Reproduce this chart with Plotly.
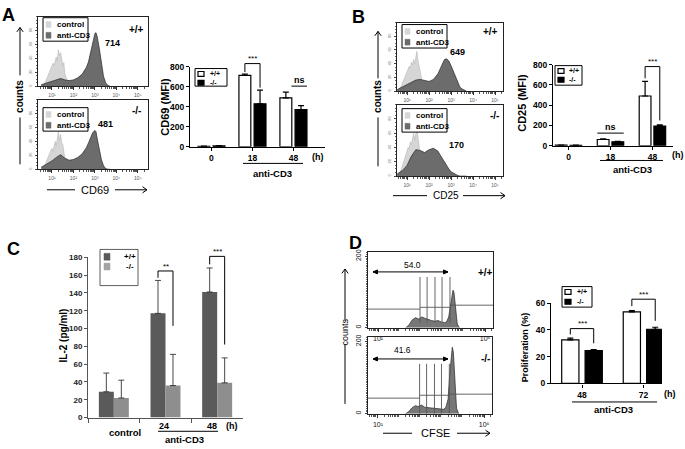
import math
import plotly.graph_objects as go

W, H = 685, 449
FONT = "Liberation Sans"

# ================= DATA =================
# Panel A - CD69 histograms (x: log10 CD69 intensity, y: relative counts)
cd69_ctl_x = [0.55, 0.7, 0.8, 0.9, 1.0, 1.05, 1.1, 1.15, 1.2, 1.25, 1.3, 1.35, 1.4, 1.45, 1.5, 1.55, 1.6, 1.7, 1.8, 1.9]
cd69_ctl_wt = [0, 6, 14, 22, 28, 33, 30, 38, 42, 36, 52, 44, 48, 40, 30, 34, 18, 8, 2, 0]
cd69_ctl_ko = [0, 7, 16, 24, 30, 26, 36, 40, 34, 46, 54, 42, 50, 38, 36, 26, 16, 7, 2, 0]
cd69_stim_x = [0.5, 0.8, 1.0, 1.2, 1.4, 1.6, 1.8, 2.0, 2.2, 2.4, 2.6, 2.7, 2.8, 2.9, 3.0, 3.05, 3.1, 3.2, 3.3, 3.4, 3.5, 3.6, 3.7]
cd69_stim_wt = [2, 5, 7, 9, 11, 9, 8, 9, 12, 17, 27, 35, 48, 63, 76, 77, 72, 55, 32, 14, 5, 1, 0]
cd69_stim_ko = [3, 8, 12, 17, 21, 16, 13, 14, 17, 22, 31, 38, 46, 53, 56, 54, 45, 28, 14, 5, 1, 0, 0]
cd69_mfi_text = ["714", "481"]

# Panel A - CD69 MFI bars
cd69_times = ["0", "18", "48"]
cd69_wt = [4, 712, 488]
cd69_wt_err = [2, 14, 58]
cd69_ko = [8, 429, 371]
cd69_ko_err = [3, 137, 39]

# Panel B - CD25 histograms
cd25_ctl_x = [0.6, 0.75, 0.85, 0.95, 1.05, 1.1, 1.15, 1.2, 1.25, 1.3, 1.35, 1.4, 1.45, 1.5, 1.55, 1.6, 1.7, 1.8, 1.9, 2.0]
cd25_ctl_wt = [0, 8, 16, 24, 30, 36, 33, 42, 38, 46, 40, 52, 58, 44, 36, 24, 12, 5, 2, 0]
cd25_ctl_ko = [0, 10, 20, 30, 40, 38, 48, 44, 54, 60, 50, 62, 68, 54, 42, 30, 16, 7, 3, 0]
cd25_stim_x = [0.55, 0.8, 1.0, 1.2, 1.4, 1.6, 1.8, 2.0, 2.2, 2.4, 2.5, 2.6, 2.7, 2.8, 2.9, 3.0, 3.1, 3.2, 3.3, 3.4, 3.5, 3.7]
cd25_stim_wt = [2, 6, 10, 13, 16, 17, 16, 14, 17, 25, 32, 40, 46, 47, 44, 37, 29, 20, 12, 6, 3, 0]
cd25_stim_ko = [3, 8, 15, 28, 37, 36, 33, 37, 39, 35, 30, 25, 19, 14, 10, 6, 4, 2, 1, 0, 0, 0]
cd25_mfi_text = ["649", "170"]

# Panel B - CD25 MFI bars
cd25_times = ["0", "18", "48"]
cd25_wt = [6, 62, 491]
cd25_wt_err = [2, 6, 145]
cd25_ko = [5, 40, 195]
cd25_ko_err = [2, 5, 12]

# Panel C - IL-2 ELISA
il2_groups = ["control", "24", "48"]
il2_wt = [29, 117, 141]
il2_wt_err = [21, 37, 27]
il2_ko = [22, 36, 39]
il2_ko_err = [20, 35, 28]

# Panel D - CFSE histograms
cfse_x = [2.3, 2.45, 2.6, 2.75, 2.9, 3.05, 3.2, 3.35, 3.5, 3.65, 3.8, 3.95, 4.1, 4.2, 4.3, 4.38, 4.45, 4.5, 4.55, 4.62, 4.7, 4.8]
cfse_wt = [0, 8, 22, 28, 24, 30, 26, 22, 20, 18, 20, 16, 14, 16, 30, 60, 95, 105, 98, 50, 10, 0]
cfse_ko = [0, 6, 16, 22, 20, 24, 18, 16, 16, 15, 14, 13, 12, 18, 40, 110, 170, 184, 170, 90, 15, 0]
cfse_gates = [2.96, 3.29, 3.66, 3.99, 4.36]
cfse_gate_span_wt = [14, 142]
cfse_gate_span_ko = [0, 138]
cfse_base_wt = [52, 57, 63]
cfse_base_ko = [43, 51, 54]
cfse_div_text = ["54.0", "41.6"]

# Panel D - proliferation bars
prolif_times = ["48", "72"]
prolif_wt = [32.5, 53.5]
prolif_wt_err = [1.3, 1.0]
prolif_ko = [24.5, 40.5]
prolif_ko_err = [0.8, 1.5]

# tick labels
hist_ticks = [1, 2, 3, 4, 5]
hist_ticktext = ["10¹", "10²", "10³", "10⁴", "10⁵"]
hist_yticks = [0, 20, 40, 60, 80]
cfse_ticks = [1, 6]
cfse_ticktext = ["10¹", "10⁶"]
cfse_yticks = [0, 200]
mfi_ticks = [0, 200, 400, 600, 800]
il2_ticks = [0, 20, 40, 60, 80, 100, 120, 140, 160, 180]
prolif_ticks = [0, 20, 40, 60]

# ================= HELPERS =================
CTL_FILL, CTL_LINE = "#d6d6d6", "#bdbdbd"
STIM_FILL, STIM_LINE = "#6c6c6c", "#262626"

fig = go.Figure()
layout = dict(width=W, height=H, margin=dict(l=0, r=0, t=0, b=0), autosize=False,
              paper_bgcolor="white", plot_bgcolor="rgba(0,0,0,0)", showlegend=False,
              barmode="overlay", font=dict(family=FONT, color="black"))
shapes, anns = [], []


def fx(p):
    return p / W


def fy(p):
    return 1 - p / H


def names(n):
    s = "" if n == 1 else str(n)
    return "x" + s, "y" + s, "xaxis" + s, "yaxis" + s


AX = {}


def add_axes(n, xd, yd, xr, yr, xkw, ykw):
    xn, yn, xk, yk = names(n)
    AX[n] = dict(xd=xd, yd=yd, xr=xr, yr=yr)
    layout[xk] = dict(domain=[fx(xd[0]), fx(xd[1])], range=list(xr), anchor=yn,
                      showgrid=False, zeroline=False, **xkw)
    layout[yk] = dict(domain=[fy(yd[1]), fy(yd[0])], range=list(yr), anchor=xn,
                      showgrid=False, zeroline=False, **ykw)


def to_px(n, xv, yv):
    a = AX[n]
    x = a["xd"][0] + (xv - a["xr"][0]) / (a["xr"][1] - a["xr"][0]) * (a["xd"][1] - a["xd"][0])
    y = a["yd"][1] - (yv - a["yr"][0]) / (a["yr"][1] - a["yr"][0]) * (a["yd"][1] - a["yd"][0])
    return x, y


def T(x, y, s, size=9, bold=True, angle=0, xanchor="center", color="black"):
    anns.append(dict(x=fx(x), y=fy(y), xref="paper", yref="paper", text=s, showarrow=False,
                     font=dict(family=FONT, size=size, color=color, weight=700 if bold else 400),
                     textangle=angle, xanchor=xanchor, yanchor="middle"))


def L(x0, y0, x1, y1, w=1.0, c="black"):
    shapes.append(dict(type="line", xref="paper", yref="paper", x0=fx(x0), y0=fy(y0),
                       x1=fx(x1), y1=fy(y1), line=dict(color=c, width=w)))


def R(x0, y0, x1, y1, fill="white", lc="black", w=1.0):
    shapes.append(dict(type="rect", xref="paper", yref="paper", x0=fx(x0), y0=fy(y1),
                       x1=fx(x1), y1=fy(y0), fillcolor=fill, line=dict(color=lc, width=w)))


def HEAD(xt, yt, xs, ys, size=4.5, filled=False, w=1.0, c="black"):
    d = math.hypot(xt - xs, yt - ys)
    ux, uy = (xt - xs) / d, (yt - ys) / d
    px_, py_ = -uy, ux
    spread = 0.45 if filled else 0.7
    x1, y1 = xt - size * ux + size * spread * px_, yt - size * uy + size * spread * py_
    x2, y2 = xt - size * ux - size * spread * px_, yt - size * uy - size * spread * py_
    path = f"M {fx(x1)},{fy(y1)} L {fx(xt)},{fy(yt)} L {fx(x2)},{fy(y2)}"
    if filled:
        path += " Z"
    shapes.append(dict(type="path", xref="paper", yref="paper", path=path,
                       fillcolor=c if filled else "rgba(0,0,0,0)", line=dict(color=c, width=w)))


def ARROW(xt, yt, xs, ys, both=False, filled=False, w=1.0, c="black"):
    L(xt, yt, xs, ys, w, c)
    HEAD(xt, yt, xs, ys, filled=filled, w=w, c=c)
    if both:
        HEAD(xs, ys, xt, yt, filled=filled, w=w, c=c)


minor_log = [d + math.log10(k) for d in range(0, 7) for k in range(2, 10)]


def hist_xkw(ticks, ticktext, size, color="#555"):
    return dict(showline=True, mirror=True, linecolor="#222", linewidth=1, ticks="outside",
                ticklen=3, tickwidth=1, tickcolor="#333", tickvals=ticks, ticktext=ticktext,
                tickfont=dict(size=size, color=color), ticklabelstandoff=1,
                minor=dict(ticks="outside", ticklen=2, tickwidth=0.7, tickcolor="#555",
                           tickvals=minor_log))


def hist_ykw(ticks, size, color="#777"):
    return dict(showline=True, mirror=True, linecolor="#222", linewidth=1, ticks="outside",
                ticklen=2, tickwidth=1, tickcolor="#444", tickvals=ticks,
                tickfont=dict(size=size, color=color), tickangle=-90, ticklabelstandoff=1,
                minor=dict(ticks="outside", ticklen=1.5, tickcolor="#666", dtick=5))


def bar_xkw(size=8.5):
    return dict(type="category", showline=True, linecolor="black", linewidth=1.3, ticks="outside",
                ticklen=3, tickwidth=1.2, tickcolor="black",
                tickfont=dict(family=FONT, size=size, weight=700))


def bar_ykw(ticks, size=8.5):
    return dict(showline=True, linecolor="black", linewidth=1.3, ticks="outside", ticklen=3,
                tickwidth=1.2, tickcolor="black", tickvals=ticks,
                tickfont=dict(family=FONT, size=size, weight=700))


def hist_trace(n, x, y, fill, line):
    xn, yn, _, _ = names(n)
    fig.add_trace(go.Scatter(x=x, y=y, xaxis=xn, yaxis=yn, mode="lines", fill="tozeroy",
                             fillcolor=fill, line=dict(color=line, width=0.7), hoverinfo="skip"))


def bar_trace(n, cats, vals, err, off, width, fill, line_w, err_c, err_t, cap):
    xn, yn, _, _ = names(n)
    fig.add_trace(go.Bar(x=cats, y=vals, xaxis=xn, yaxis=yn, offset=off, width=width,
                         marker=dict(color=fill, line=dict(color="black", width=line_w)),
                         error_y=dict(type="data", symmetric=False, array=err,
                                      arrayminus=[0] * len(err), color=err_c,
                                      thickness=err_t, width=cap),
                         hoverinfo="skip"))


def bracket(n, c, o1, o2, v_top, v_left, v_right, label, size=8):
    x1, yt = to_px(n, c + o1, v_top)
    x2, _ = to_px(n, c + o2, v_top)
    _, yl = to_px(n, c, v_left)
    _, yr = to_px(n, c, v_right)
    L(x1, yl, x1, yt)
    L(x1, yt, x2, yt)
    L(x2, yt, x2, yr)
    T((x1 + x2) / 2, yt - 5, label, size, bold=False)


def ns_line(n, c, o1, o2, v, label="ns"):
    x1, y = to_px(n, c + o1, v)
    x2, _ = to_px(n, c + o2, v)
    L(x1, y, x2, y)
    T((x1 + x2) / 2, y - 6, label, 9, bold=True)


def hist_legend(x0, y0):
    R(x0, y0, x0 + 45, y0 + 24, "white", "black", 1)
    R(x0 + 3, y0 + 4, x0 + 8, y0 + 10, CTL_FILL, CTL_FILL, 0.5)
    T(x0 + 12, y0 + 7, "control", 8, xanchor="left")
    R(x0 + 3, y0 + 15, x0 + 8, y0 + 21, STIM_FILL, STIM_FILL, 0.5)
    T(x0 + 12, y0 + 18, "anti-CD3", 8, xanchor="left")


def bar_legend(x0, y0, x1, y1, dy, sw_fill, sw_line, tx):
    R(x0, y0, x1, y1, "white", "black", 1)
    for i, lab in enumerate(["+/+", "-/-"]):
        R(x0 + 3, y0 + 3 + i * dy, x0 + 9, y0 + 8 + i * dy, sw_fill[i], sw_line[i], 1.2)
        T(tx, y0 + 5.5 + i * dy, lab, 7, xanchor="left")


# ================= PANEL A =================
add_axes(1, (38, 148), (12, 83), (0.35, 5.47), (0, 100),
         hist_xkw(hist_ticks, hist_ticktext, 5), hist_ykw(hist_yticks, 4))
add_axes(2, (38, 148), (97, 168), (0.35, 5.47), (0, 100),
         hist_xkw(hist_ticks, hist_ticktext, 5), hist_ykw(hist_yticks, 4))
hist_trace(1, cd69_ctl_x, cd69_ctl_wt, CTL_FILL, CTL_LINE)
hist_trace(1, cd69_stim_x, cd69_stim_wt, STIM_FILL, STIM_LINE)
hist_trace(2, cd69_ctl_x, cd69_ctl_ko, CTL_FILL, CTL_LINE)
hist_trace(2, cd69_stim_x, cd69_stim_ko, STIM_FILL, STIM_LINE)
hist_legend(43, 13)
hist_legend(43, 105)
T(136, 25, "+/+", 10)
T(113, 39, cd69_mfi_text[0], 9)
T(136, 108, "-/-", 10)
T(105, 122, cd69_mfi_text[1], 9)
T(8.5, 10, "A", 18)
ARROW(20, 23, 20, 72)
T(20, 94, "counts", 10, angle=-90)
L(20, 115, 20, 163)
L(47, 189, 75, 189)
T(95, 189, "CD69", 11, bold=False)
ARROW(147, 189, 115, 189)

add_axes(3, (190, 325), (63, 145), (-0.524, 2.77), (0, 800), bar_xkw(), bar_ykw(mfi_ticks))
bar_trace(3, cd69_times, cd69_wt, cd69_wt_err, -0.33, 0.29, "white", 1.2, "black", 1.2, 3)
bar_trace(3, cd69_times, cd69_ko, cd69_ko_err, 0.04, 0.29, "black", 1.2, "black", 1.2, 3)
bar_legend(195, 65, 227, 83, 9, ["white", "black"], ["black", "black"], 208)
T(165, 104, "CD69 (MFI)", 11, angle=-90)
T(318, 155, "(h)", 9)
L(243, 162, 303, 162)
T(272, 172, "anti-CD3", 9.5)
bracket(3, 1, -0.185, 0.185, 830, 745, 590, "***")
ns_line(3, 2, -0.05, 0.33, 605)

# ================= PANEL B =================
add_axes(4, (397, 503), (18, 88), (0.545, 5.36), (0, 100),
         hist_xkw(hist_ticks, hist_ticktext, 5), hist_ykw(hist_yticks, 4))
add_axes(5, (397, 503), (102, 175), (0.545, 5.36), (0, 100),
         hist_xkw(hist_ticks, hist_ticktext, 5), hist_ykw(hist_yticks, 4))
hist_trace(4, cd25_ctl_x, cd25_ctl_wt, CTL_FILL, CTL_LINE)
hist_trace(4, cd25_stim_x, cd25_stim_wt, STIM_FILL, STIM_LINE)
hist_trace(5, cd25_ctl_x, cd25_ctl_ko, CTL_FILL, CTL_LINE)
hist_trace(5, cd25_stim_x, cd25_stim_ko, STIM_FILL, STIM_LINE)
hist_legend(402, 20)
hist_legend(402, 106)
T(491, 27, "+/+", 10)
T(457, 48, cd25_mfi_text[0], 9)
T(494, 113, "-/-", 10)
T(456, 143, cd25_mfi_text[1], 9)
T(358, 12, "B", 18)
ARROW(378, 27, 378, 75)
T(378, 94, "counts", 10, angle=-90)
L(378, 115, 378, 165)
L(393, 195, 427, 195)
T(446, 195, "CD25", 10, bold=False)
ARROW(505, 195, 463, 195)

add_axes(6, (553, 673), (61, 144), (-0.37, 2.49), (0, 800), bar_xkw(), bar_ykw(mfi_ticks))
bar_trace(6, cd25_times, cd25_wt, cd25_wt_err, -0.315, 0.28, "white", 1.2, "black", 1.2, 3)
bar_trace(6, cd25_times, cd25_ko, cd25_ko_err, 0.035, 0.28, "black", 1.2, "black", 1.2, 3)
bar_legend(555, 62, 582, 82, 9, ["white", "black"], ["black", "black"], 567)
T(522, 100, "CD25 (MFI)", 11, angle=-90)
T(678, 153, "(h)", 9)
L(600, 159, 663, 159)
T(632, 168, "anti-CD3", 9.5)
ns_line(6, 1, -0.315, 0.315, 125)
bracket(6, 2, -0.175, 0.175, 781, 665, 250, "***")

# ================= PANEL C =================
add_axes(7, (88, 243), (258, 422), (-0.5, 2.5), (0, 180),
         dict(type="category", showline=True, linecolor="#555", linewidth=1, ticks="outside",
              ticklen=4, tickcolor="#555", tickson="boundaries", showticklabels=False),
         dict(showline=True, linecolor="#555", linewidth=1, ticks="outside", ticklen=3,
              tickcolor="#555", tickvals=il2_ticks,
              tickfont=dict(family=FONT, size=8, weight=700, color="#222")))
C_DARK, C_LIGHT = "#5a5a5a", "#8e8e8e"
bar_trace(7, il2_groups, il2_wt, il2_wt_err, -0.29, 0.29, C_DARK, 0, "#333", 0.9, 3)
bar_trace(7, il2_groups, il2_ko, il2_ko_err, 0.0, 0.29, C_LIGHT, 0, "#333", 0.9, 3)
R(100, 250, 138, 287, "white", "#333", 0.8)
R(104, 254, 110, 261, C_DARK, C_DARK, 0.5)
T(122, 257.5, "+/+", 8, xanchor="left")
R(104, 264, 110, 271, "#a3a3a3", "#a3a3a3", 0.5)
T(124, 267.5, "-/-", 8, xanchor="left")
T(13, 250, "C", 18)
T(63, 338, "IL-2 (pg/ml)", 10, angle=-90)
T(125, 437, il2_groups[0], 9.5)
T(164, 431, il2_groups[1], 9)
T(212, 431, il2_groups[2], 9)
T(232, 431, "(h)", 9)
L(158, 436, 218, 436)
T(184, 444, "anti-CD3", 9.5)
bracket(7, 1, -0.145, 0.145, 164.6, 157, 103, "**")
bracket(7, 2, -0.145, 0.145, 181, 172, 82, "***")

# ================= PANEL D =================
add_axes(8, (368, 493), (253, 330), (0.53, 6.37), (0, 211),
         hist_xkw(cfse_ticks, cfse_ticktext, 7, "#111"), hist_ykw(cfse_yticks, 7, "#111"))
add_axes(9, (368, 492), (340, 418), (0.53, 6.37), (0, 211),
         hist_xkw(cfse_ticks, cfse_ticktext, 7, "#111"), hist_ykw(cfse_yticks, 7, "#111"))
hist_trace(8, cfse_x, cfse_wt, "#777777", STIM_LINE)
hist_trace(9, cfse_x, cfse_ko, "#777777", STIM_LINE)
for n, span, base in ((8, cfse_gate_span_wt, cfse_base_wt), (9, cfse_gate_span_ko, cfse_base_ko)):
    xn, yn, _, _ = names(n)
    vx, vy = [], []
    for g in cfse_gates:
        vx += [g, g, None]
        vy += [span[0], span[1], None]
    xr = AX[n]["xr"]
    hx = [xr[0], cfse_gates[0], None, cfse_gates[0], cfse_gates[-1], None, cfse_gates[-1], xr[1]]
    hy = [base[0], base[0], None, base[1], base[1], None, base[2], base[2]]
    fig.add_trace(go.Scatter(x=vx + [None] + hx, y=vy + [None] + hy, xaxis=xn, yaxis=yn,
                             mode="lines", line=dict(color="#555", width=0.9), hoverinfo="skip"))
ARROW(448, 273, 373, 273, both=True, filled=True)
T(412, 266, cfse_div_text[0], 8.5, bold=False)
ARROW(448, 362, 373, 362, both=True, filled=True)
T(402, 353, cfse_div_text[1], 8.5, bold=False)
T(485, 274, "+/+", 10)
T(485, 362, "-/-", 10)
T(355, 243, "D", 18)
ARROW(345, 270, 345, 323)
T(345, 335, "counts", 9, bold=False, angle=-90)
L(345, 347, 345, 408)
L(383, 438, 412, 438)
T(435, 438, "CFSE", 11, bold=False)
ARROW(490, 438, 457, 438)

add_axes(10, (551, 662), (305, 387), (-0.504, 1.3), (0, 60), bar_xkw(), bar_ykw(prolif_ticks))
bar_trace(10, prolif_times, prolif_wt, prolif_wt_err, -0.33, 0.28, "white", 1.2, "black", 1.2, 3)
bar_trace(10, prolif_times, prolif_ko, prolif_ko_err, 0.05, 0.28, "black", 1.2, "black", 1.2, 3)
bar_legend(562, 288, 592, 309, 10, ["white", "black"], ["black", "black"], 575)
T(525, 350, "Proliferation (%)", 9, angle=-90)
T(670, 398, "(h)", 9)
L(572, 406, 657, 406)
T(613, 414, "anti-CD3", 9.5)
bracket(10, 0, -0.19, 0.19, 41, 36.6, 30, "***")
bracket(10, 1, -0.19, 0.19, 63, 57.8, 46.8, "***")

layout["shapes"] = shapes
layout["annotations"] = anns
fig.update_layout(**layout)
fig.write_html("out.html")
